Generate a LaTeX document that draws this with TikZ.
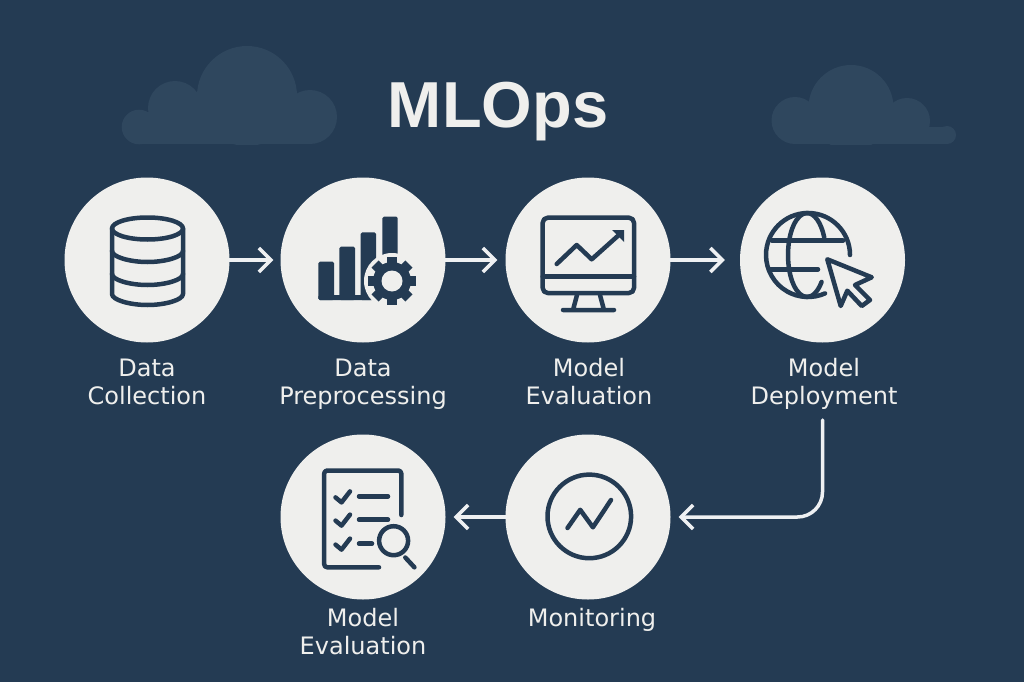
\documentclass[tikz,border=0pt]{standalone}
\usepackage{fontspec}
\setmainfont{DejaVu Sans}
\newfontfamily\titlefont{Liberation Sans}
\usetikzlibrary{arrows.meta}

\definecolor{bgnavy}{RGB}{36,59,83}
\definecolor{cloudnavy}{RGB}{47,71,94}
\definecolor{discwhite}{RGB}{239,239,237}
\definecolor{linewhite}{RGB}{238,240,242}

\tikzset{
    stagedisc/.style={circle, fill=discwhite, minimum size=165pt, inner sep=0pt},
    stagelabel/.style={text=discwhite, align=center, inner sep=0pt, anchor=base, font=\fontsize{24}{27.6}\selectfont},
    flowarrow/.style={draw=linewhite, line width=3.5pt, line cap=round, -{Straight Barb[length=12pt,width=24pt,line width=3.5pt]}},
    iconline/.style={draw=bgnavy, line width=4.5pt, line cap=round, line join=round},
    iconfill/.style={fill=bgnavy}
}

\begin{document}
\begin{tikzpicture}[x=1pt,y=-1pt]

    \fill[bgnavy] (0,0) rectangle (1024,682);
    \useasboundingbox (0,0) rectangle (1024,682);

    \begin{scope}
        \clip (0,0) rectangle (1024,144);
        \foreach \cx/\cy/\r in {247/96/50, 175/108/27, 139/127/17.3, 310/117/27, 851/107.5/42.5, 795/120.5/23.5, 907/121/23, 947/135/9}
        \fill[cloudnavy] (\cx,\cy) circle (\r);
        \fill[cloudnavy] (139,112) rectangle (310,144);
        \fill[cloudnavy] (795,110) rectangle (907,144);
        \fill[cloudnavy] (907,127) rectangle (947,144);
    \end{scope}

    \node (title) [text=discwhite, font=\titlefont\fontsize{65}{65}\bfseries\selectfont, inner sep=0pt, anchor=base] at (498,128) {MLOps};

    \foreach \nm/\x/\y in {dc/147/260, dp/363/260, me/588/260, md/822.5/260, mon/588/517, mr/363/517}
    \node[stagedisc] (\nm) at (\x,\y) {};

    \node (dclab) [stagelabel] at (147,404.3) {Data\\Collection};
    \node (dplab) [stagelabel] at (363,404.3) {Data\\Preprocessing};
    \node (melab) [stagelabel] at (589,404.3) {Model\\Evaluation};
    \node (mdlab) [stagelabel] at (824,404.3) {Model\\Deployment};
    \node (monlab) [stagelabel] at (592,626.7) {Monitoring};
    \node (mrlab) [stagelabel] at (363,654.3) {Model\\Evaluation};

    \coordinate (turn) at (822.5,420);
    \draw[flowarrow, shorten >=7pt] (dc) -- (dp);
    \draw[flowarrow, shorten >=8pt] (dp) -- (me);
    \draw[flowarrow, shorten >=15pt] (me) -- (md);
    \draw[flowarrow, shorten >=8pt, rounded corners=25pt] (turn) |- (mon);
    \draw[flowarrow, shorten >=8pt] (mon) -- (mr);

    \draw[iconline] (147.5,228.5) ellipse (35.5 and 11);
    \draw[iconline] (112,228.5) -- (112,294) .. controls (112,300) and (130,305) .. (147.5,305) .. controls (165,305) and (183,300) .. (183,294) -- (183,228.5);
    \foreach \y in {251,274}
    \draw[iconline] (112,\y) .. controls (112,\y+6) and (130,\y+11) .. (147.5,\y+11) .. controls (165,\y+11) and (183,\y+6) .. (183,\y);

    \foreach \xa/\xb/\ytop in {318.3/334/261.7, 339.3/355/246.7, 360.7/376/232.3, 382.3/397.7/216.7}
    \fill[iconfill, rounded corners=1.5pt] (\xa,\ytop) rectangle (\xb,300);
    \fill[iconfill, rounded corners=1.5pt] (318.3,295) rectangle (372,300);
    \fill[discwhite] (392,281) circle (28);
    \fill[iconfill] (392,281) circle (19);
    \foreach \a in {0,45,...,315}
    \fill[iconfill, rotate around={\a:(392,281)}] (387,257) rectangle (397,270);
    \fill[discwhite] (392,281) circle (10.5);

    \draw[iconline, rounded corners=5pt] (542.7,217.7) rectangle (634,293);
    \draw[iconline] (542.7,276.7) -- (634,276.7);
    \draw[iconline] (577,295) -- (573,310) (600,295) -- (604,310) (563,310) -- (614,310);
    \draw[iconline] (556.7,264) -- (576.7,245) -- (591.7,259.3) -- (620,234);
    \fill[iconfill] (612,230) -- (624,230) -- (624,242) -- cycle;

    \draw[iconline] (850,255) arc (0:-294:42 and 42);
    \draw[iconline] (807,213) arc (270:90:19 and 42);
    \draw[iconline] (807,213) arc (-90:-25:19 and 42);
    \draw[iconline] (807,297) arc (90:40:19 and 42);
    \draw[iconline] (772,240.7) -- (843,240.7);
    \draw[iconline] (770,269.3) -- (818,269.3);
    \draw[iconline, fill=discwhite] (827.3,259.3) -- (871.7,277.3) -- (855,285) -- (870,300) -- (861.7,306) -- (847.3,290.7) -- (840.7,306) -- cycle;

    \draw[iconline, rounded corners=3pt] (401.3,515) -- (401.3,470.5) -- (324.2,470.5) -- (324.2,567.3) -- (379,567.3);
    \foreach \y/\xend in {496.4/388, 519.6/388, 543.6/372} {
        \draw[iconline] (359,\y) -- (\xend,\y);
        \draw[iconline] (335.5,\y+1) -- (341.5,\y+6) -- (350,\y-5);
    }
    \draw[iconline, fill=discwhite] (393.6,540.7) circle (14.5);
    \draw[iconline] (405.3,557.5) -- (414.4,567.3);

    \draw[iconline] (589.3,516.4) circle (41.8);
    \draw[iconline] (567.5,528) -- (580.2,509.8) -- (592.9,527.3) -- (611,500);

\end{tikzpicture}
\end{document}
